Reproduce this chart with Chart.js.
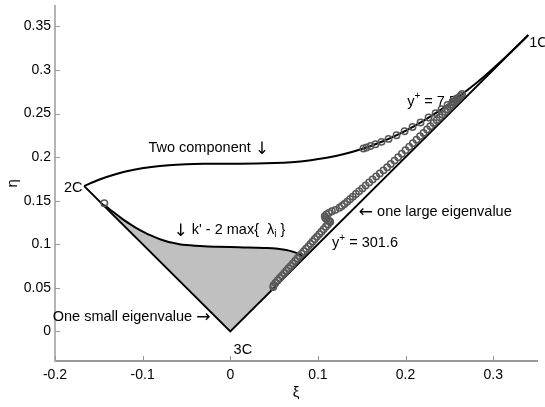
<!DOCTYPE html>
<html>
<head>
<meta charset="utf-8">
<script src="https://cdn.jsdelivr.net/npm/chart.js@4.4.0/dist/chart.umd.min.js"></script>
<style>
  html, body { margin: 0; padding: 0; background: #fff; }
  canvas { display: block; }
</style>
</head>
<body>
<canvas id="lumley" width="545" height="407"></canvas>
<script>
// axis ticks
const xTicks = [-0.2, -0.1, 0, 0.1, 0.2, 0.3];
const xTickLabels = ['-0.2', '-0.1', '0', '0.1', '0.2', '0.3'];
const yTicks = [0, 0.05, 0.1, 0.15, 0.2, 0.25, 0.3, 0.35];
const yTickLabels = ['0', '0.05', '0.1', '0.15', '0.2', '0.25', '0.3', '0.35'];

// straight edges 2C -> 3C -> 1C
const edgeXi  = [-0.1667, 0, 0.34];
const edgeEta = [0.1667, 0, 0.34];

// two-component edge 2C -> 1C
const twoCXi  = [-0.1667, -0.15, -0.13, -0.11, -0.09, -0.07, -0.05, -0.03, 0, 0.03, 0.05, 0.07, 0.09,
                 0.11, 0.13, 0.15, 0.17, 0.19, 0.21, 0.23, 0.25, 0.27, 0.29, 0.31, 0.33, 0.34];
const twoCEta = [0.1667, 0.1740, 0.1807, 0.1854, 0.1886, 0.1907, 0.1918, 0.1923, 0.1925, 0.1926, 0.1931, 0.1942, 0.1962,
                 0.1992, 0.2035, 0.2093, 0.2165, 0.2253, 0.2357, 0.2477, 0.2613, 0.2764, 0.2929, 0.3108, 0.3300, 0.3401];

// k' - 2 max{lambda_i} curve (top of the grey region)
const kXi  = [-0.144, -0.138, -0.132, -0.126, -0.120, -0.113, -0.106, -0.098, -0.090, -0.082, -0.074, -0.066, -0.058, -0.050,
              -0.040, -0.030, -0.015, 0.000, 0.015, 0.030, 0.042, 0.052, 0.060, 0.067, 0.073, 0.078, 0.082, 0.084];
const kEta = [0.145, 0.1405, 0.1358, 0.1312, 0.1268, 0.1223, 0.1180, 0.1137, 0.1098, 0.1065, 0.1037, 0.1016, 0.1000, 0.0990,
              0.0982, 0.0976, 0.0971, 0.0967, 0.0964, 0.0961, 0.0957, 0.0950, 0.0940, 0.0927, 0.0910, 0.0890, 0.0866, 0.084];

// DNS profile, wall -> centre
const profXi = [
  -0.1437,
  0.152, 0.1554, 0.16, 0.1657, 0.1726, 0.1806, 0.1897, 0.1989, 0.208, 0.2171, 0.2263, 0.2343, 0.2411, 0.248, 0.2537, 0.2583,
  0.2645, 0.2630, 0.2612, 0.2594, 0.2575, 0.2553, 0.2530, 0.2505, 0.2478, 0.2450, 0.2420, 0.2388, 0.2355, 0.2320,
  0.2283, 0.2245, 0.2206, 0.2166, 0.2125, 0.2084, 0.2042, 0.2000, 0.1958, 0.1916, 0.1874, 0.1832, 0.1790, 0.1748,
  0.1706, 0.1665, 0.1624, 0.1584, 0.1545, 0.1507, 0.1470, 0.1434, 0.1399, 0.1366, 0.1334, 0.1303, 0.1274, 0.1246,
  0.1200, 0.1160, 0.1125, 0.1097, 0.1078, 0.1085, 0.1100, 0.1118, 0.1135,
  0.1140, 0.1115, 0.1090, 0.1065, 0.1040, 0.1015, 0.0990, 0.0965, 0.0940, 0.0915, 0.0890, 0.0865, 0.0840, 0.0815,
  0.0790, 0.0765, 0.0740, 0.0715, 0.0690, 0.0665, 0.0640, 0.0615, 0.0590, 0.0565, 0.0540, 0.0515, 0.0495, 0.0490
];
const profEta = [
  0.147,
  0.2099, 0.2111, 0.2127, 0.2148, 0.2175, 0.2209, 0.2251, 0.2297, 0.2346, 0.2398, 0.2454, 0.2505, 0.2551, 0.2599, 0.2640, 0.2674,
  0.2725, 0.2705, 0.2688, 0.2668, 0.2648, 0.2627, 0.2603, 0.2578, 0.2550, 0.2520, 0.2490, 0.2458, 0.2425, 0.2392,
  0.2355, 0.2317, 0.2278, 0.2239, 0.2199, 0.2159, 0.2119, 0.2079, 0.2039, 0.1999, 0.1960, 0.1921, 0.1884, 0.1848,
  0.1812, 0.1777, 0.1743, 0.1708, 0.1674, 0.1641, 0.1608, 0.1576, 0.1546, 0.1517, 0.1489, 0.1462, 0.1440, 0.1418,
  0.1395, 0.1378, 0.1360, 0.1342, 0.1322, 0.1302, 0.1288, 0.1275, 0.1262,
  0.1255, 0.1228, 0.1200, 0.1172, 0.1144, 0.1116, 0.1088, 0.1060, 0.1032, 0.1004, 0.0976, 0.0948, 0.0920, 0.0892,
  0.0864, 0.0836, 0.0808, 0.0780, 0.0752, 0.0724, 0.0696, 0.0668, 0.0640, 0.0612, 0.0584, 0.0556, 0.0530, 0.0510
];

const pts = (xs, ys) => xs.map((v, i) => ({ x: v, y: ys[i] }));

// grey region: k' curve, then back along the straight edges through 3C
const shadePts = pts(kXi, kEta).concat([{ x: edgeXi[1], y: edgeEta[1] }, { x: kXi[0], y: kEta[0] }]);

const FONT = '"Liberation Sans", Arial, Helvetica, sans-serif';
const ARROW_FONT = '"DejaVu Sans", sans-serif';

// text annotations, anchored left / middle at (xi, eta)
const notes = [
  { xi: 0.3411, eta: 0.3315, parts: [['1C']] },
  { xi: -0.1897, eta: 0.1642, parts: [['2C']] },
  { xi: 0.0038, eta: -0.0216, parts: [['3C']] },
  { xi: -0.0934, eta: 0.2102, parts: [['Two component '], ['\u2193', 'arrow']] },
  { xi: -0.0648, eta: 0.1159, parts: [['\u2193', 'arrow'], [" k' - 2 max{  \u03bb"], ['i', 'sub'], [' }']] },
  { xi: 0.1467, eta: 0.1375, parts: [['\u2190', 'arrow'], [' one large eigenvalue']] },
  { xi: 0.1162, eta: 0.1011, parts: [['y'], ['+', 'sup'], [' = 301.6']] },
  { xi: 0.2019, eta: 0.2636, parts: [['y'], ['+', 'sup'], [' = 7.5']] },
  { xi: -0.2026, eta: 0.0170, parts: [['One small eigenvalue '], ['\u2192', 'arrow']] }
];

function drawParts(ctx, parts, x, y) {
  let cx = x;
  parts.forEach(([t, kind]) => {
    let dy = 0;
    let font = '14.5px ' + FONT;
    if (kind === 'sub') { font = '10px ' + FONT; dy = 4; }
    if (kind === 'sup') { font = '10px ' + FONT; dy = -5; }
    if (kind === 'arrow') { font = '17px ' + ARROW_FONT; dy = 1; }
    ctx.font = font;
    ctx.fillText(t, cx, y + dy);
    cx += ctx.measureText(t).width;
  });
}

const annotate = {
  id: 'annotate',
  beforeDatasetsDraw(chart) {
    const { ctx, chartArea, scales: { x, y } } = chart;
    ctx.save();
    // inward tick marks
    ctx.lineWidth = 1;
    ctx.strokeStyle = '#999';
    ctx.beginPath();
    xTicks.forEach(v => {
      const px = Math.round(x.getPixelForValue(v)) + 0.5;
      ctx.moveTo(px, chartArea.bottom);
      ctx.lineTo(px, chartArea.bottom - 5);
    });
    yTicks.forEach(v => {
      const py = Math.round(y.getPixelForValue(v)) + 0.5;
      ctx.moveTo(chartArea.left, py);
      ctx.lineTo(chartArea.left + 5, py);
    });
    ctx.stroke();

    ctx.fillStyle = '#000';
    ctx.textAlign = 'left';
    ctx.textBaseline = 'middle';
    notes.forEach(n => drawParts(ctx, n.parts, x.getPixelForValue(n.xi), y.getPixelForValue(n.eta)));

    // axis titles
    ctx.font = '15px ' + FONT;
    ctx.textAlign = 'center';
    ctx.fillText('\u03be', (chartArea.left + chartArea.right) / 2, 393);
    ctx.translate(13, (chartArea.top + chartArea.bottom) / 2);
    ctx.rotate(-Math.PI / 2);
    ctx.fillText('\u03b7', 0, 0);
    ctx.restore();
  }
};

const tickFont = { family: FONT, size: 14 };
const noPad = s => { s.paddingTop = 0; s.paddingBottom = 0; s.paddingLeft = 0; s.paddingRight = 0; };

new Chart(document.getElementById('lumley'), {
  type: 'scatter',
  data: {
    datasets: [
      {
        label: 'profile',
        data: pts(profXi, profEta),
        showLine: false,
        pointRadius: 3.2,
        pointBorderWidth: 1.5,
        pointBorderColor: '#585858',
        pointBackgroundColor: 'rgba(0,0,0,0)',
        order: 0
      },
      {
        label: 'two component',
        data: pts(twoCXi, twoCEta),
        showLine: true,
        borderColor: '#000',
        borderWidth: 2,
        pointRadius: 0,
        cubicInterpolationMode: 'monotone',
        order: 1
      },
      {
        label: 'edges',
        data: pts(edgeXi, edgeEta),
        showLine: true,
        borderColor: '#000',
        borderWidth: 2,
        pointRadius: 0,
        order: 1
      },
      {
        label: 'k curve',
        data: pts(kXi, kEta),
        showLine: true,
        borderColor: '#000',
        borderWidth: 2,
        pointRadius: 0,
        cubicInterpolationMode: 'monotone',
        order: 1
      },
      {
        label: 'shade',
        data: shadePts,
        showLine: true,
        fill: 'shape',
        backgroundColor: '#c0c0c0',
        borderColor: 'rgba(0,0,0,0)',
        borderWidth: 0,
        pointRadius: 0,
        order: 2
      }
    ]
  },
  options: {
    responsive: false,
    animation: false,
    events: [],
    layout: { padding: { top: 2, right: 8, left: 0, bottom: 0 } },
    plugins: {
      legend: { display: false },
      tooltip: { enabled: false }
    },
    scales: {
      x: {
        type: 'linear',
        min: -0.2,
        max: 0.35,
        afterBuildTicks: s => { s.ticks = xTicks.map(v => ({ value: v })); },
        afterFit: s => { s.height = 46; noPad(s); },
        ticks: {
          callback: (v, i) => xTickLabels[i],
          font: tickFont,
          color: '#000',
          padding: 6,
          maxRotation: 0,
          autoSkip: false
        },
        grid: { display: false, drawTicks: false },
        border: { display: true, color: '#999', width: 2 }
      },
      y: {
        type: 'linear',
        min: -0.034,
        max: 0.374,
        afterBuildTicks: s => { s.ticks = yTicks.map(v => ({ value: v })); },
        afterFit: s => { s.width = 55; noPad(s); },
        ticks: {
          callback: (v, i) => yTickLabels[i],
          font: tickFont,
          color: '#000',
          padding: 4,
          autoSkip: false
        },
        grid: { display: false, drawTicks: false },
        border: { display: true, color: '#b4b4b4', width: 2 }
      }
    }
  },
  plugins: [annotate]
});
</script>
</body>
</html>
